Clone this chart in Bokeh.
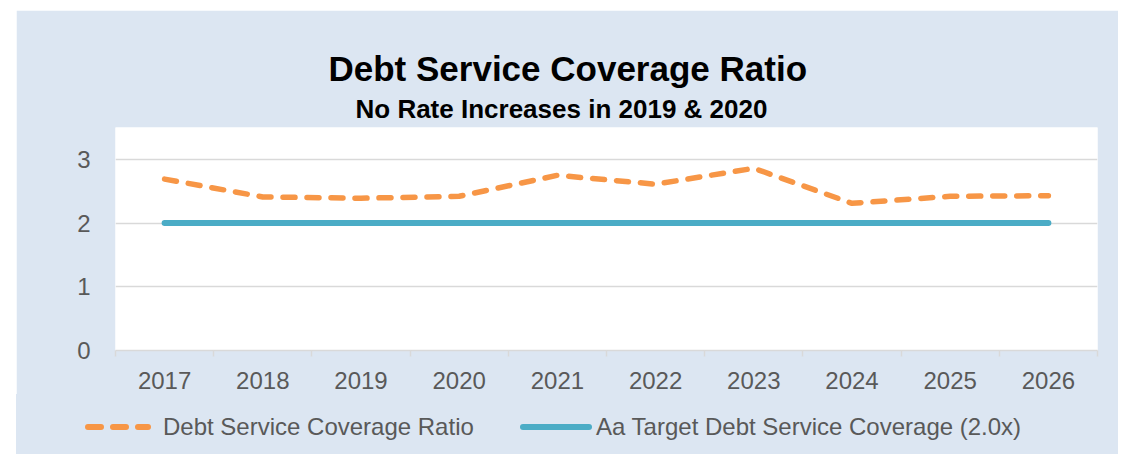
from bokeh.plotting import figure
from bokeh.layouts import column
from bokeh.models import Range1d, FixedTicker, Title, Div
from bokeh.embed import file_html
from bokeh.resources import INLINE

# Chart data
years = ["2017", "2018", "2019", "2020", "2021", "2022", "2023", "2024", "2025", "2026"]
dscr = [2.69, 2.41, 2.39, 2.42, 2.75, 2.61, 2.86, 2.31, 2.42, 2.43]
target = [2.0, 2.0, 2.0, 2.0, 2.0, 2.0, 2.0, 2.0, 2.0, 2.0]
y_ticks = [0, 1, 2, 3]

title_text = "Debt Service Coverage Ratio"
subtitle_text = "No Rate Increases in 2019 & 2020"
series_names = ["Debt Service Coverage Ratio", "Aa Target Debt Service Coverage (2.0x)"]

FONT = "Liberation Sans"
TEXT_GREY = "#595959"
GRID_GREY = "#D9D9D9"
ORANGE = "#F79646"
TEAL = "#4BACC6"
PANEL_BLUE = "#DCE6F2"

# each year occupies one unit band; points sit at band centres
n = len(years)
xs = [i + 0.5 for i in range(n)]
band_edges = list(range(n + 1))

p = figure(
    width=1102, height=384,
    x_range=Range1d(0, n), y_range=Range1d(0, 3.5),
    output_backend="svg", toolbar_location=None, title=None,
    min_border_left=99, min_border_right=21,
    min_border_top=117, min_border_bottom=44,
    background_fill_color="white", border_fill_color=PANEL_BLUE,
    outline_line_color=None,
)
p.margin = (10, 0, 0, 16)

# x axis: year labels at band centres, small tick marks at band edges
xa = p.xaxis[0]
xa.ticker = FixedTicker(ticks=xs, minor_ticks=band_edges)
xa.major_label_overrides = {x: y for x, y in zip(xs, years)}
xa.major_tick_in = 0
xa.major_tick_out = 0
xa.minor_tick_in = 0
xa.minor_tick_out = 6
xa.minor_tick_line_color = GRID_GREY
xa.minor_tick_line_width = 1.5
xa.axis_line_color = GRID_GREY
xa.axis_line_width = 1.5
xa.major_label_standoff = 15
xa.major_label_text_font = FONT
xa.major_label_text_font_size = "24px"
xa.major_label_text_color = TEXT_GREY

ya = p.yaxis[0]
ya.ticker = FixedTicker(ticks=y_ticks)
ya.axis_line_color = None
ya.major_tick_line_color = None
ya.minor_tick_line_color = None
ya.major_label_standoff = 19
ya.major_label_text_font = FONT
ya.major_label_text_font_size = "24px"
ya.major_label_text_color = TEXT_GREY

p.xgrid.visible = False
p.ygrid.grid_line_color = GRID_GREY
p.ygrid.grid_line_width = 1.5

p.line(xs, dscr, line_color=ORANGE, line_width=5.5,
       line_dash="12 12", line_cap="round", line_join="round")
p.line(xs, target, line_color=TEAL, line_width=6, line_cap="round")

sub = Title(text=subtitle_text, align="left", offset=240,
            text_font=FONT, text_font_size="26px", text_font_style="bold",
            text_color="black", standoff=8)
main = Title(text=title_text, align="left", offset=213,
             text_font=FONT, text_font_size="35px", text_font_style="bold",
             text_color="black", standoff=0)
p.add_layout(sub, "above")
p.add_layout(main, "above")

# legend strip under the chart: line keys drawn as small inline svgs
dash_key = (
    f'<svg width="66" height="12" style="position:absolute;left:69px;top:27px">'
    f'<line x1="3" y1="6" x2="63" y2="6" stroke="{ORANGE}" stroke-width="6" '
    f'stroke-dasharray="13 12" stroke-linecap="round"/></svg>'
)
solid_key = (
    f'<svg width="72" height="12" style="position:absolute;left:504px;top:27px">'
    f'<line x1="3" y1="6" x2="69" y2="6" stroke="{TEAL}" stroke-width="6" '
    f'stroke-linecap="round"/></svg>'
)
label_style = (
    f"position:absolute;top:19px;line-height:28px;white-space:nowrap;"
    f"font-family:'{FONT}';font-size:24px;color:{TEXT_GREY}"
)
legend_html = (
    f'<div style="position:relative;width:1102px;height:60px">'
    f'{dash_key}<span style="{label_style};left:147px">{series_names[0]}</span>'
    f'{solid_key}<span style="{label_style};left:580px">{series_names[1]}</span>'
    f'</div>'
)
legend_strip = Div(text=legend_html, width=1102, height=60,
                   styles={"background-color": PANEL_BLUE})
legend_strip.margin = (0, 0, 0, 16)

layout = column(p, legend_strip, spacing=0)
open("out.html", "w").write(file_html(layout, INLINE))
